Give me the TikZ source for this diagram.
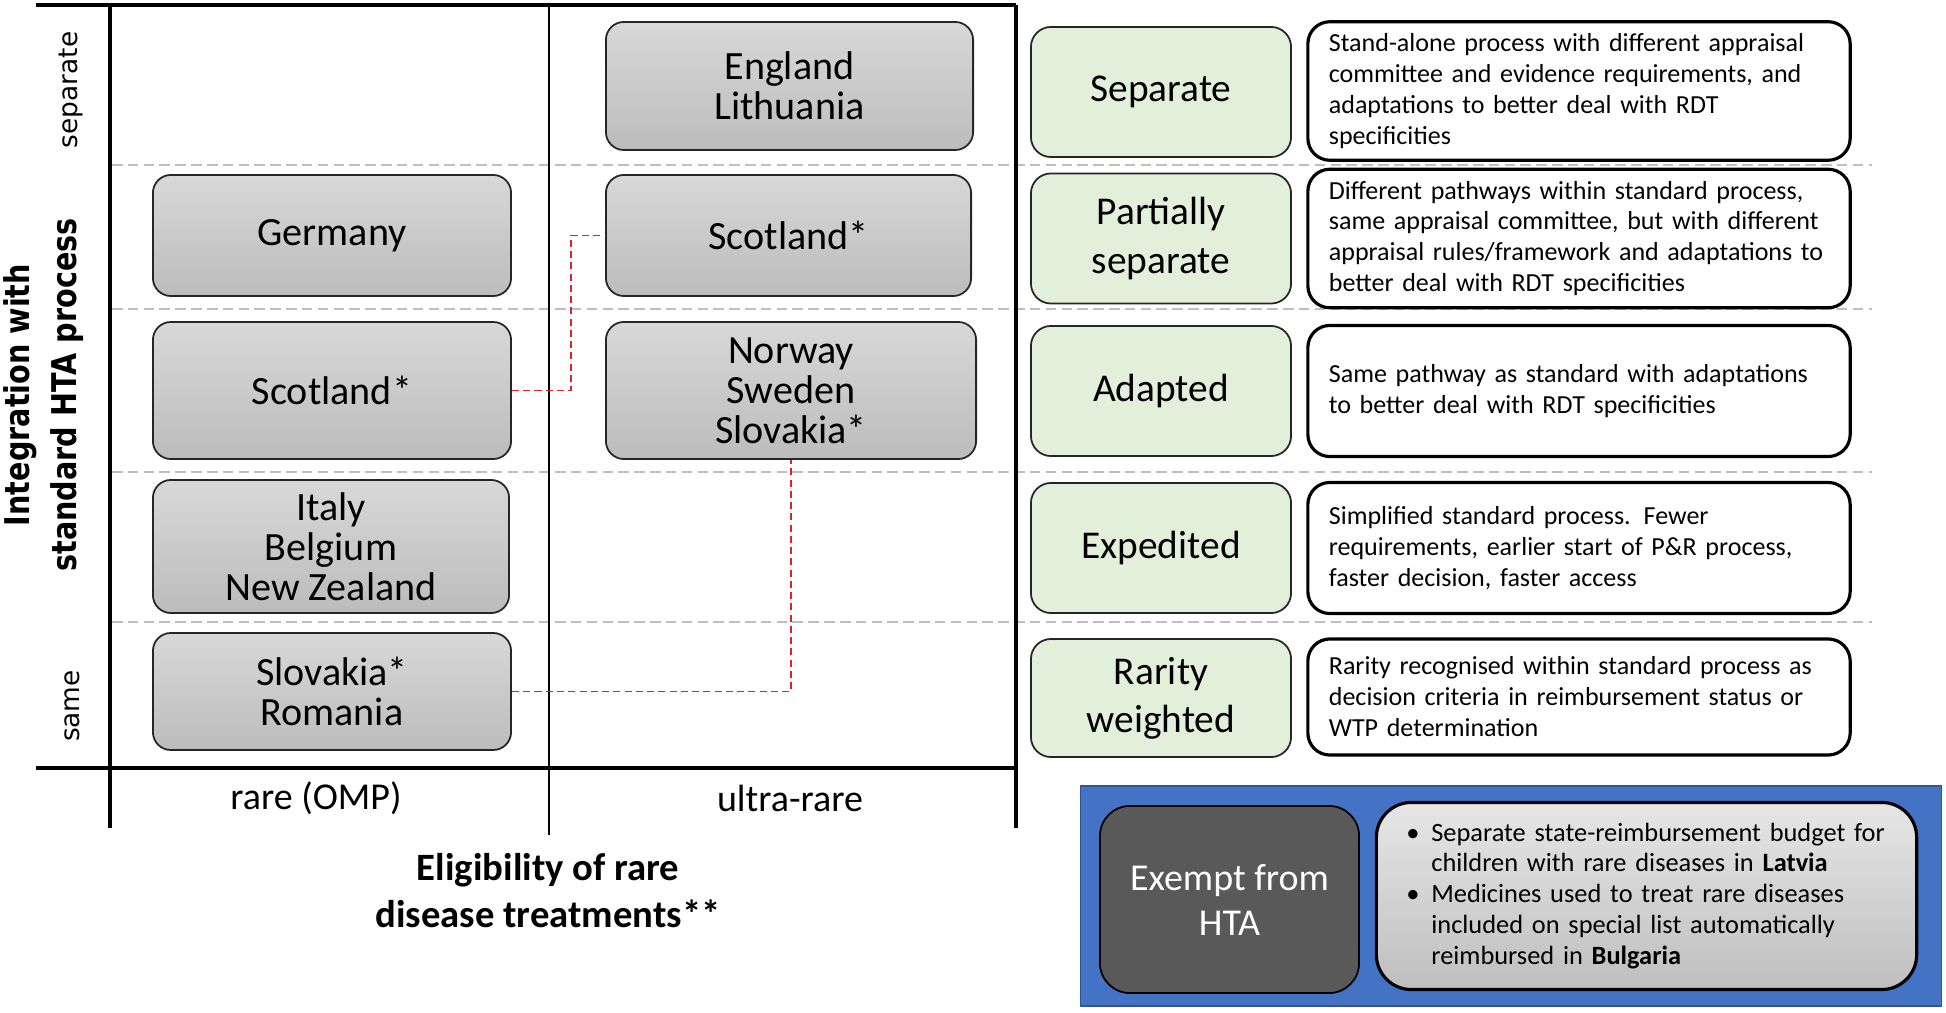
\documentclass[tikz,border=0pt]{standalone}
\usepackage{fontspec}
\setmainfont{Carlito}
\newfontfamily\axisfont{DejaVu Sans}
\usetikzlibrary{positioning}
\definecolor{boxtop}{HTML}{D8D8D8}
\definecolor{boxbot}{HTML}{BCBCBC}
\definecolor{listtop}{HTML}{E6E6E6}
\definecolor{listbot}{HTML}{BFBFBF}
\definecolor{levelgreen}{HTML}{E2EFDA}
\definecolor{htablue}{HTML}{4472C4}
\definecolor{darkbox}{HTML}{595959}
\definecolor{gridgrey}{HTML}{BFBFBF}
\definecolor{linkred}{HTML}{E0202A}
\tikzset{
    country/.style={draw=black!85,line width=0.5pt,rounded corners=0.18cm,
        top color=boxtop,bottom color=boxbot,align=center,inner sep=0pt,
        font=\fontsize{11.4}{11.4}\selectfont},
    level/.style={draw=black!85,line width=0.5pt,rounded corners=0.2cm,
        fill=levelgreen,align=center,inner sep=0pt,minimum width=2.6cm,
        minimum height=1.3cm,font=\fontsize{11.2}{13.7}\selectfont},
    descbox/.style={draw,line width=0.9pt,rounded corners=0.22cm,fill=white,
        minimum width=5.42cm,minimum height=1.31cm,text width=5cm,
        inner xsep=0.21cm,align=left,font=\fontsize{7.4}{8.8}\selectfont},
    gridline/.style={gridgrey,line width=0.5pt,dash pattern=on 3pt off 1.5pt},
    link/.style={linkred,line width=0.5pt,dash pattern=on 2pt off 1.2pt},
    axisline/.style={line width=1.2pt}
}

\begin{document}
\begin{tikzpicture}[x=0.01cm,y=-0.01cm]
    \useasboundingbox (0,0) rectangle (1946,1013);
    %%grid_lines
    \foreach \gy in {165,309,472,622}
        \draw[gridline] (112,\gy) -- (1872,\gy);
    %%axes
    \draw[axisline] (36,5) -- (1016,5);
    \draw[axisline] (36,768) -- (1016,768);
    \draw[axisline] (110,5) -- (110,828);
    \draw[axisline] (1016,5) -- (1016,828);
    \draw[line width=0.4pt] (549,5) -- (549,835);
    \node[rotate=90,font=\axisfont\fontsize{7.5}{9}\selectfont] (sepaxis) at (71,90) {separate};
    \node[rotate=90,font=\axisfont\fontsize{7.5}{9}\selectfont] (sameaxis) at (72,706) {same};
    \node[rotate=90,align=center,font=\axisfont\bfseries\fontsize{9.7}{13.4}\selectfont] (yaxis) at (44,395)
        {\scalebox{0.84}[1]{Integration with}\\\scalebox{0.84}[1]{standard HTA process}};
    \node[font=\fontsize{10.8}{13}\selectfont] (rare) at (316,798) {rare (OMP)};
    \node[font=\fontsize{10.8}{13}\selectfont] (ultra) at (790,798) {ultra-rare};
    \node[align=center,font=\bfseries\fontsize{11}{13.4}\selectfont] (xaxis) at (548,891)
        {Eligibility of rare\\disease treatments**};
    %%countries
    \node[country,minimum width=3.67cm,minimum height=1.28cm] (engl) at (789.5,86) {England\\Lithuania};
    \node[country,minimum width=3.58cm,minimum height=1.21cm] (germ) at (332,235.5) {Germany};
    \node[country,minimum width=3.65cm,minimum height=1.21cm] (scotr) at (788.5,235.5) {Scotland*};
    \node[country,minimum width=3.58cm,minimum height=1.37cm] (scotl) at (332,390.5) {Scotland*};
    \node[country,minimum width=3.70cm,minimum height=1.37cm] (nord) at (791,390.5) {Norway\\Sweden\\Slovakia*};
    \node[country,minimum width=3.56cm,minimum height=1.33cm] (ital) at (331,546.5) {Italy\\Belgium\\New Zealand};
    \node[country,minimum width=3.58cm,minimum height=1.17cm] (slov) at (332,691.5) {Slovakia*\\Romania};
    %%links
    \coordinate (bend) at (571,390.5);
    \draw[link] (scotl.east) -- (bend) |- (scotr.west);
    \draw[link] (slov.east) -| (nord.south);
    %%levels
    \node[level] (sep) at (1161,92) {Separate};
    \node[level] (part) at (1161,238.5) {Partially\\separate};
    \node[level] (adap) at (1161,391) {Adapted};
    \node[level] (expe) at (1161,548) {Expedited};
    \node[level,minimum height=1.18cm] (rari) at (1161,698) {Rarity\\weighted};
    \node[descbox] (sepd) at (1579,91) {Stand-alone process with different appraisal\\
        committee and evidence requirements, and\\adaptations to better deal with RDT\\specificities};
    \node[descbox] (partd) at (1579,238.5) {Different pathways within standard process,\\
        same appraisal committee, but with different\\appraisal rules/framework and adaptations to\\
        better deal with RDT specificities};
    \node[descbox] (adapd) at (1579,391) {Same pathway as standard with adaptations\\
        to better deal with RDT specificities};
    \node[descbox] (exped) at (1579,548) {Simplified standard process. Fewer\\
        requirements, earlier start of P\&R process,\\faster decision, faster access};
    \node[descbox,minimum height=1.16cm] (rarid) at (1579,697) {Rarity recognised within standard process as\\
        decision criteria in reimbursement status or\\WTP determination};
    %%exempt
    \node[fill=htablue,draw=htablue!75!black,line width=0.4pt,minimum width=8.6cm,
        minimum height=2.2cm] (hta) at (1511,896) {};
    \node[fill=darkbox,draw=black,line width=0.5pt,rounded corners=0.3cm,text=white,
        minimum width=2.59cm,minimum height=1.87cm,align=center,
        font=\fontsize{10.8}{12.8}\selectfont] (exempt) at (1229.5,899.5) {Exempt from\\HTA};
    \node[top color=listtop,bottom color=listbot,draw=black,line width=0.9pt,rounded corners=0.35cm,
        minimum width=5.39cm,minimum height=1.87cm,text width=4.8cm,inner xsep=0.3cm,align=left,
        font=\fontsize{7.5}{8.8}\selectfont] (list) at (1646.5,896)
        {\makebox[0.25cm][l]{\textbullet}Separate state-reimbursement budget for\\
        \hspace*{0.25cm}children with rare diseases in \textbf{Latvia}\\
        \makebox[0.25cm][l]{\textbullet}Medicines used to treat rare diseases\\
        \hspace*{0.25cm}included on special list automatically\\
        \hspace*{0.25cm}reimbursed in \textbf{Bulgaria}};
\end{tikzpicture}
\end{document}
